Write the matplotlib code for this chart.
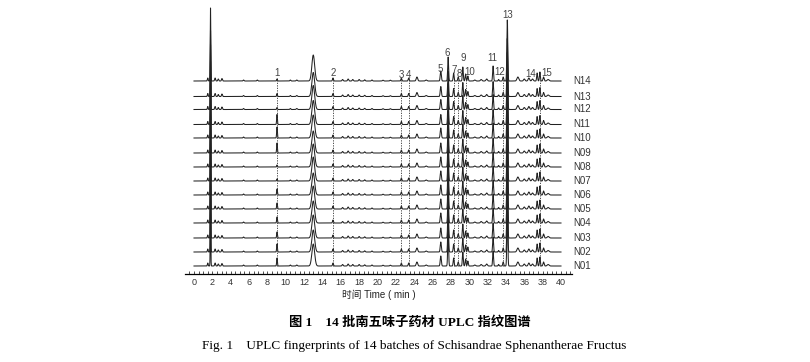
import numpy as np
import matplotlib.pyplot as plt
from matplotlib.ticker import MultipleLocator

plt.rcParams['font.family'] = ['Liberation Sans', 'Noto Sans CJK SC']

# batches, bottom to top
samples = ['N01', 'N02', 'N03', 'N04', 'N05', 'N06', 'N07',
           'N08', 'N09', 'N10', 'N11', 'N12', 'N13', 'N14']
# vertical offset of each trace (pixels above the time axis)
offsets = [8, 22, 36, 51, 65, 79, 93, 107, 121, 136, 149.5, 164.5, 177.5, 193]

# peaks shared by all batches: retention time (min), width (min), height
peak_t = [1.5, 2.3, 2.65, 3.05, 5.4, 6.9, 10.5, 11.2, 15.15, 16.2, 16.8, 17.3,
          18.0, 18.6, 19.4, 20.6, 21.4, 22.6, 23.4, 24.3, 25.3, 26.9, 28.3,
          28.8, 29.3, 29.6, 29.85, 30.6, 31.3, 31.9, 32.6, 33.2, 33.7, 35.3,
          36.0, 36.5, 36.9, 37.4, 37.7, 38.1, 38.6]
peak_w = [0.04, 0.05, 0.05, 0.05, 0.05, 0.05, 0.05, 0.06, 0.05, 0.06, 0.06, 0.06,
          0.06, 0.06, 0.06, 0.06, 0.06, 0.05, 0.05, 0.08, 0.08, 0.06, 0.05,
          0.05, 0.05, 0.05, 0.05, 0.08, 0.08, 0.08, 0.05, 0.05, 0.05, 0.1,
          0.08, 0.08, 0.08, 0.05, 0.05, 0.06, 0.1]
peak_h = [3, 3, 2, 2.5, 1, 1, 1, 1, 3, 1.5, 2, 1.5,
          1.5, 1.2, 1, 0.8, 0.8, 3, 3, 4, 1, 10, 8,
          4, 14, 7, 5, 1, 1.5, 2, 15, 1.5, 4, 4,
          2, 3, 2, 8, 9, 4, 1.5]

# peaks that change between batches (N01..N14)
solvent_h = [60, 62, 64, 63, 62, 65, 64, 63, 62, 64, 63, 65, 66, 73]    # 1.8 min
p1_h = [8, 8, 6, 6, 6, 6, 2, 2, 10, 11, 10, 2, 3, 2]                 # 9.05 min
broad_h = [22, 22, 23, 22, 23, 22, 24, 23, 22, 23, 24, 24, 24, 26]   # 13.0 min
p6_h = [32, 30, 31, 29, 30, 31, 30, 29, 28, 27, 27, 26, 25, 24]      # 27.7 min
p13_h = [60, 59, 62, 60, 61, 58, 60, 62, 59, 60, 62, 57, 58, 61]     # 34.15 min

# peak numbering: (label, time, label height in px above axis)
labels = ['1', '2', '3', '4', '5', '6', '7', '8', '9', '10', '11', '12', '13', '14', '15']
label_t = [9.05, 15.15, 22.6, 23.4, 26.8, 27.6, 28.4, 28.9, 29.3, 30.1, 32.5, 33.35, 34.2, 36.7, 38.4]
label_y = [201, 201, 199, 199, 205, 221, 204, 200, 216, 202, 216, 202, 259, 200, 201]
dashed_t = [9.05, 15.15, 22.6, 23.4, 28.3, 28.8, 29.6, 33.7, 37.7]


def gauss(x, t, w, h):
    return h * np.exp(-0.5 * ((x - t) / w) ** 2)


t = np.linspace(0, 40, 8001)

fig = plt.figure(figsize=(8.1, 3.62), dpi=100)
ax = fig.add_axes([185 / 810, 88 / 362, 387 / 810, 269 / 362])

for i, name in enumerate(samples):
    y = np.zeros_like(t)
    for pt, pw, ph in zip(peak_t, peak_w, peak_h):
        y += gauss(t, pt, pw, ph)
    y += gauss(t, 1.8, 0.03, solvent_h[i])
    y += gauss(t, 9.05, 0.04, p1_h[i])
    y += gauss(t, 13.0, 0.15, broad_h[i])
    y += gauss(t, 27.7, 0.05, p6_h[i])
    y += gauss(t, 34.15, 0.05, p13_h[i])
    ax.plot(t, y + offsets[i], color='#222222', lw=0.75)
    ax.text(41.3, offsets[i], name, fontsize=7, color='#333333',
            va='center', ha='left', clip_on=False)

for dt in dashed_t:
    ax.plot([dt, dt], [offsets[0], 196], color='#333333', lw=0.6,
            linestyle=(0, (1.5, 1.5)))

for lab, lt, ly in zip(labels, label_t, label_y):
    ax.text(lt, ly, lab, fontsize=7, color='#444444', ha='center', va='center')

ax.set_xlim(-0.98, 41.2)
ax.set_ylim(0, 269)
for s in ['left', 'right', 'top']:
    ax.spines[s].set_visible(False)
ax.spines['bottom'].set_linewidth(0.9)
ax.set_yticks([])
ax.set_xticks(range(0, 41, 2))
ax.xaxis.set_minor_locator(MultipleLocator(0.5))
ax.tick_params(axis='x', which='both', direction='in', length=2.5, width=0.6,
               labelsize=6.5, pad=3, colors='#333333')
ax.set_xlabel('时间 Time ( min )', fontsize=7, labelpad=2, color='#222222')

fig.text(410 / 810, 1 - 323 / 362, '图 1　14 批南五味子药材 UPLC 指纹图谱',
         fontsize=9.5, ha='center', va='center', weight='bold',
         family=['Liberation Serif', 'Noto Sans CJK SC'])
fig.text(414 / 810, 1 - 346 / 362,
         'Fig. 1　UPLC fingerprints of 14 batches of Schisandrae Sphenantherae Fructus',
         fontsize=9.5, ha='center', va='center',
         family=['Liberation Serif', 'Noto Sans CJK SC'])

fig.savefig('out.png', dpi=100)
